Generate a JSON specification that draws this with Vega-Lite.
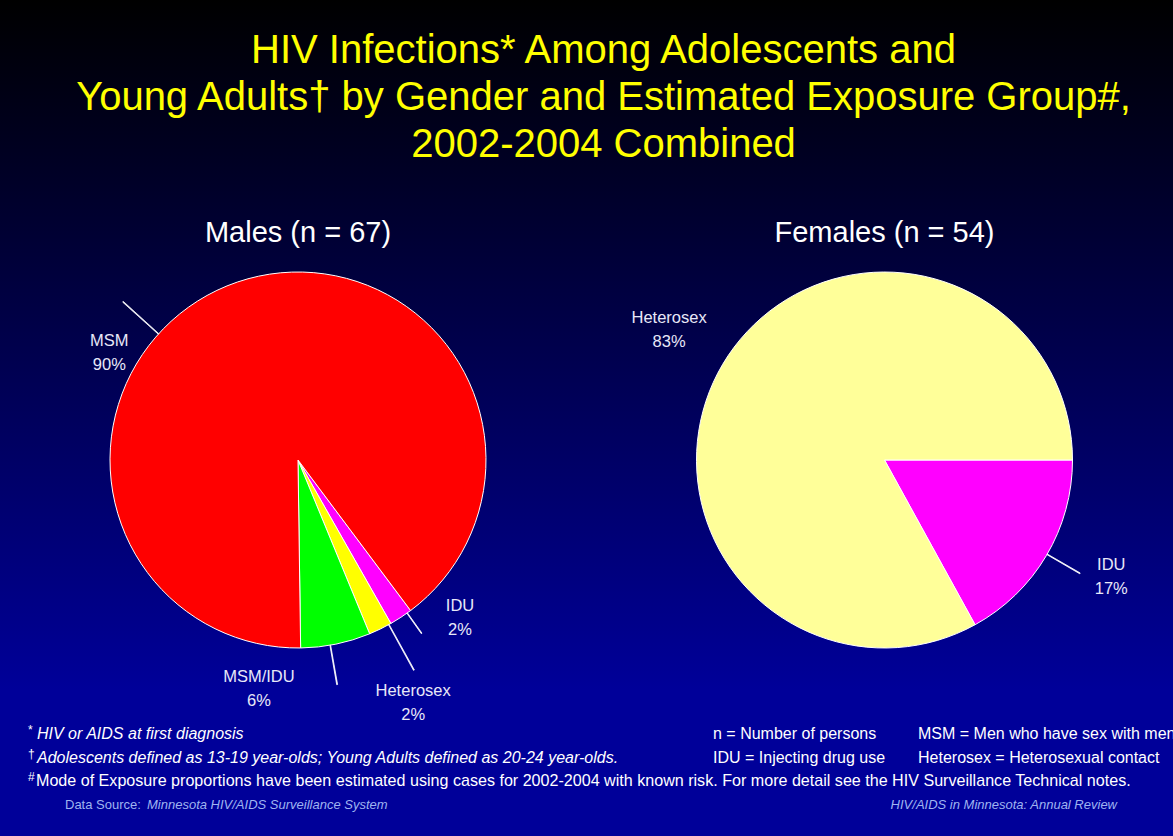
{
  "$schema": "https://vega.github.io/schema/vega-lite/v6.json",
  "background": "#000099",
  "padding": 0,
  "spacing": 0,
  "config": {
    "view": {"stroke": null},
    "font": "Liberation Sans",
    "text": {"font": "Liberation Sans"},
    "title": {"font": "Liberation Sans", "fontWeight": "normal", "color": "#ffffff"}
  },
  "datasets": {
    "titleLines": [
      {"line": 1, "text": "HIV Infections* Among Adolescents and"},
      {"line": 2, "text": "Young Adults† by Gender and Estimated Exposure Group#,"},
      {"line": 3, "text": "2002-2004 Combined"}
    ],
    "males": [
      {"idx": 1, "group": "IDU", "pct": 2},
      {"idx": 2, "group": "Heterosex", "pct": 2},
      {"idx": 3, "group": "MSM/IDU", "pct": 6},
      {"idx": 4, "group": "MSM", "pct": 90}
    ],
    "females": [
      {"idx": 1, "group": "IDU", "pct": 17},
      {"idx": 2, "group": "Heterosex", "pct": 83}
    ],
    "notes": [
      {"line": 1, "kind": "marker", "text": "*"},
      {"line": 1, "kind": "note", "text": "HIV or AIDS at first diagnosis"},
      {"line": 1, "kind": "defA", "text": "n = Number of persons"},
      {"line": 1, "kind": "defB", "text": "MSM = Men who have sex with men"},
      {"line": 2, "kind": "marker", "text": "†"},
      {"line": 2, "kind": "note", "text": "Adolescents defined as 13-19 year-olds; Young Adults defined as 20-24 year-olds."},
      {"line": 2, "kind": "defA", "text": "IDU = Injecting drug use"},
      {"line": 2, "kind": "defB", "text": "Heterosex = Heterosexual contact"},
      {"line": 3, "kind": "marker", "text": "#"},
      {"line": 3, "kind": "method", "text": "Mode of Exposure proportions have been estimated using cases for 2002-2004 with known risk. For more detail see the HIV Surveillance Technical notes."},
      {"line": 4, "kind": "sourceLabel", "text": "Data Source:"},
      {"line": 4, "kind": "source", "text": "Minnesota HIV/AIDS Surveillance System"},
      {"line": 4, "kind": "report", "text": "HIV/AIDS in Minnesota: Annual Review"}
    ]
  },
  "vconcat": [
    {
      "width": 1173,
      "height": 196,
      "view": {"stroke": null, "fill": {"gradient": "linear", "x1": 0, "y1": 0, "x2": 0, "y2": 1, "stops": [{"offset": 0, "color": "#000000"}, {"offset": 1, "color": "#00002b"}]}},
      "data": {"name": "titleLines"},
      "mark": {"type": "text", "fontSize": 40, "color": "#ffff00", "dx": 17, "align": "center", "baseline": "middle"},
      "encoding": {
        "y": {"field": "line", "type": "ordinal", "scale": {"type": "point", "range": [51, 145], "padding": 0}, "axis": null},
        "text": {"field": "text"}
      }
    },
    {
      "hconcat": [
        {
          "width": 596,
          "height": 528,
          "title": {"text": "Males (n = 67)", "offset": -52, "fontSize": 29, "anchor": "middle"},
          "view": {"stroke": null, "fill": {"gradient": "linear", "x1": 0, "y1": 0, "x2": 0, "y2": 1, "stops": [{"offset": 0, "color": "#00002b"}, {"offset": 0.9356, "color": "#000099"}, {"offset": 1, "color": "#000099"}]}},
          "data": {"name": "males"},
          "transform": [{"stack": "pct", "groupby": [], "sort": [{"field": "idx", "order": "ascending"}], "as": ["v0", "v1"]}],
          "layer": [
            {
              "mark": {"type": "arc", "outerRadius": 188, "stroke": "#ffffff", "strokeWidth": 1},
              "encoding": {
                "theta": {"field": "v0", "type": "quantitative", "stack": null, "scale": {"domain": [0, 100], "range": [2.4993, 8.7825]}},
                "theta2": {"field": "v1"},
                "color": {"field": "group", "type": "nominal", "scale": {"domain": ["MSM", "MSM/IDU", "Heterosex", "IDU"], "range": ["#ff0000", "#00ff00", "#ffff00", "#ff00ff"]}, "legend": null}
              }
            },
            {
              "transform": [{"filter": "datum.group === 'MSM'"}],
              "mark": {"type": "arc", "innerRadius": 188, "outerRadius": 236, "thetaOffset": 2.3178, "theta2Offset": 2.3218, "fill": "#ffffff", "stroke": "#ffffff", "strokeWidth": 0.8},
              "encoding": {"theta": {"field": "v0", "type": "quantitative", "stack": null}, "theta2": {"field": "v0"}}
            },
            {
              "transform": [{"filter": "datum.group === 'IDU'"}],
              "mark": {"type": "arc", "innerRadius": 188, "outerRadius": 213, "thetaOffset": 0.0209, "theta2Offset": 0.0249, "fill": "#ffffff", "stroke": "#ffffff", "strokeWidth": 0.8},
              "encoding": {"theta": {"field": "v0", "type": "quantitative", "stack": null}, "theta2": {"field": "v0"}}
            },
            {
              "transform": [{"filter": "datum.group === 'Heterosex'"}],
              "mark": {"type": "arc", "innerRadius": 188, "outerRadius": 240, "thetaOffset": 0.0105, "theta2Offset": 0.0145, "fill": "#ffffff", "stroke": "#ffffff", "strokeWidth": 0.8},
              "encoding": {"theta": {"field": "v0", "type": "quantitative", "stack": null}, "theta2": {"field": "v0"}}
            },
            {
              "transform": [{"filter": "datum.group === 'MSM/IDU'"}],
              "mark": {"type": "arc", "innerRadius": 188, "outerRadius": 228, "thetaOffset": 0.2164, "theta2Offset": 0.2204, "fill": "#ffffff", "stroke": "#ffffff", "strokeWidth": 0.8},
              "encoding": {"theta": {"field": "v0", "type": "quantitative", "stack": null}, "theta2": {"field": "v0"}}
            },
            {
              "transform": [{"filter": "datum.group === 'MSM'"}],
              "mark": {"type": "text", "radius": 223, "thetaOffset": 2.1468, "fontSize": 16.5, "lineHeight": 24, "color": "#e8e8f8", "align": "center", "baseline": "middle"},
              "encoding": {"theta": {"field": "v0", "type": "quantitative", "stack": null}, "text": {"value": {"expr": "[datum.group, datum.pct + '%']"}}}
            },
            {
              "transform": [{"filter": "datum.group === 'IDU'"}],
              "mark": {"type": "text", "radius": 218, "thetaOffset": -0.1955, "fontSize": 16.5, "lineHeight": 24, "color": "#e8e8f8", "align": "center", "baseline": "middle"},
              "encoding": {"theta": {"field": "v0", "type": "quantitative", "stack": null}, "text": {"value": {"expr": "[datum.group, datum.pct + '%']"}}}
            },
            {
              "transform": [{"filter": "datum.group === 'Heterosex'"}],
              "mark": {"type": "text", "radius": 258, "thetaOffset": 0.0541, "fontSize": 16.5, "lineHeight": 24, "color": "#e8e8f8", "align": "center", "baseline": "middle"},
              "encoding": {"theta": {"field": "v0", "type": "quantitative", "stack": null}, "text": {"value": {"expr": "[datum.group, datum.pct + '%']"}}}
            },
            {
              "transform": [{"filter": "datum.group === 'MSM/IDU'"}],
              "mark": {"type": "text", "radius": 220.5, "thetaOffset": 0.569, "fontSize": 16.5, "lineHeight": 24, "color": "#e8e8f8", "align": "center", "baseline": "middle"},
              "encoding": {"theta": {"field": "v0", "type": "quantitative", "stack": null}, "text": {"value": {"expr": "[datum.group, datum.pct + '%']"}}}
            }
          ]
        },
        {
          "width": 577,
          "height": 528,
          "title": {"text": "Females (n = 54)", "offset": -52, "fontSize": 29, "anchor": "middle"},
          "view": {"stroke": null, "fill": {"gradient": "linear", "x1": 0, "y1": 0, "x2": 0, "y2": 1, "stops": [{"offset": 0, "color": "#00002b"}, {"offset": 0.9356, "color": "#000099"}, {"offset": 1, "color": "#000099"}]}},
          "data": {"name": "females"},
          "transform": [{"stack": "pct", "groupby": [], "sort": [{"field": "idx", "order": "ascending"}], "as": ["v0", "v1"]}],
          "layer": [
            {
              "mark": {"type": "arc", "outerRadius": 188, "stroke": "#ffffff", "strokeWidth": 1},
              "encoding": {
                "theta": {"field": "v0", "type": "quantitative", "stack": null, "scale": {"domain": [0, 100], "range": [1.5708, 7.854]}},
                "theta2": {"field": "v1"},
                "color": {"field": "group", "type": "nominal", "scale": {"domain": ["Heterosex", "IDU"], "range": ["#ffff99", "#ff00ff"]}, "legend": null}
              }
            },
            {
              "transform": [{"filter": "datum.group === 'IDU'"}],
              "mark": {"type": "arc", "innerRadius": 188, "outerRadius": 226, "thetaOffset": 0.5236, "theta2Offset": 0.5276, "fill": "#ffffff", "stroke": "#ffffff", "strokeWidth": 0.8},
              "encoding": {"theta": {"field": "v0", "type": "quantitative", "stack": null}, "theta2": {"field": "v0"}}
            },
            {
              "transform": [{"filter": "datum.group === 'Heterosex'"}],
              "mark": {"type": "text", "radius": 258, "thetaOffset": 2.6564, "fontSize": 16.5, "lineHeight": 24, "color": "#e8e8f8", "align": "center", "baseline": "middle"},
              "encoding": {"theta": {"field": "v0", "type": "quantitative", "stack": null}, "text": {"value": {"expr": "[datum.group, datum.pct + '%']"}}}
            },
            {
              "transform": [{"filter": "datum.group === 'IDU'"}],
              "mark": {"type": "text", "radius": 250, "thetaOffset": 0.4346, "fontSize": 16.5, "lineHeight": 24, "color": "#e8e8f8", "align": "center", "baseline": "middle"},
              "encoding": {"theta": {"field": "v0", "type": "quantitative", "stack": null}, "text": {"value": {"expr": "[datum.group, datum.pct + '%']"}}}
            }
          ]
        }
      ],
      "spacing": 0,
      "resolve": {"scale": {"color": "independent", "theta": "independent"}}
    },
    {
      "width": 1173,
      "height": 112,
      "view": {"stroke": null, "fill": null},
      "data": {"name": "notes"},
      "encoding": {
        "y": {"field": "line", "type": "ordinal", "scale": {"type": "point", "range": [9, 80], "padding": 0}, "axis": null},
        "text": {"field": "text"}
      },
      "layer": [
        {"transform": [{"filter": "datum.kind === 'marker'"}], "mark": {"type": "text", "x": 28, "dy": -4, "align": "left", "baseline": "middle", "fontSize": 12, "color": "#ffffff"}},
        {"transform": [{"filter": "datum.kind === 'note'"}], "mark": {"type": "text", "x": 37, "align": "left", "baseline": "middle", "fontSize": 16, "fontStyle": "italic", "color": "#ffffff"}},
        {"transform": [{"filter": "datum.kind === 'method'"}], "mark": {"type": "text", "x": 36, "align": "left", "baseline": "middle", "fontSize": 16.1, "color": "#ffffff"}},
        {"transform": [{"filter": "datum.kind === 'defA'"}], "mark": {"type": "text", "x": 713, "align": "left", "baseline": "middle", "fontSize": 16, "color": "#ffffff"}},
        {"transform": [{"filter": "datum.kind === 'defB'"}], "mark": {"type": "text", "x": 918, "align": "left", "baseline": "middle", "fontSize": 16, "color": "#ffffff"}},
        {"transform": [{"filter": "datum.kind === 'sourceLabel'"}], "mark": {"type": "text", "x": 65, "align": "left", "baseline": "middle", "fontSize": 13, "color": "#9fb4f0"}},
        {"transform": [{"filter": "datum.kind === 'source'"}], "mark": {"type": "text", "x": 147, "align": "left", "baseline": "middle", "fontSize": 13, "fontStyle": "italic", "color": "#9fb4f0"}},
        {"transform": [{"filter": "datum.kind === 'report'"}], "mark": {"type": "text", "x": 1117, "align": "right", "baseline": "middle", "fontSize": 13, "fontStyle": "italic", "color": "#9fb4f0"}}
      ]
    }
  ]
}
